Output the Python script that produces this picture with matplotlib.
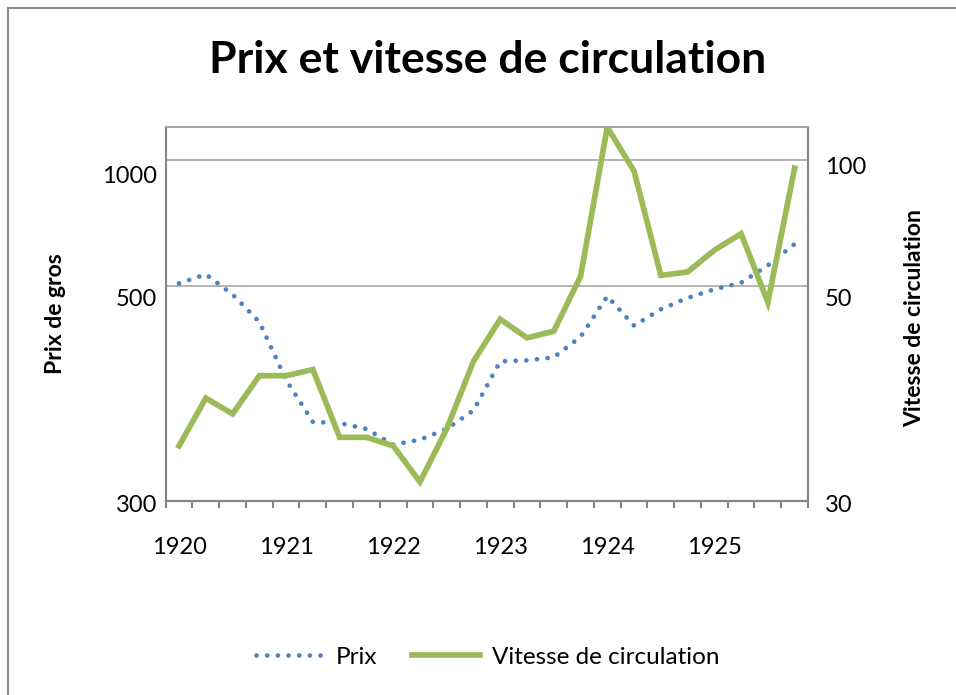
import matplotlib
matplotlib.use('Agg')
import matplotlib.pyplot as plt
import matplotlib.transforms as mtransforms
from matplotlib.lines import Line2D
import numpy as np

plt.rcParams['font.family'] = ['Lato', 'DejaVu Sans']

# trimestres 1920 - 1925
trimestres = ['1920 T1', '1920 T2', '1920 T3', '1920 T4',
              '1921 T1', '1921 T2', '1921 T3', '1921 T4',
              '1922 T1', '1922 T2', '1922 T3', '1922 T4',
              '1923 T1', '1923 T2', '1923 T3', '1923 T4',
              '1924 T1', '1924 T2', '1924 T3', '1924 T4',
              '1925 T1', '1925 T2', '1925 T3', '1925 T4']
annees = ['1920', '1921', '1922', '1923', '1924', '1925']

prix = [507, 533, 490, 459, 400, 362, 361, 356, 343, 347, 356, 372,
        418, 419, 422, 443, 488, 455, 473, 486, 496, 509, 560, 630]
vitesse = [34.2, 38.3, 36.9, 40.4, 40.4, 41.0, 34.9, 34.9, 34.2, 31.4, 35.6, 41.8,
           46.2, 44.2, 44.9, 52.7, 120, 94.3, 53.0, 54.0, 60.9, 66.7, 48.1, 95.8]

ticks_prix = [300, 500, 1000]
ticks_vitesse = [30, 50, 100]

BLEU = '#4F81BD'
VERT = '#9BBB59'
GRIS_AXE = '#868686'
GRIS_GRILLE = '#A6A6A6'


def echelle(bas, milieu, haut):
    """echelle log par morceaux : dans le graphique d'origine l'ecart bas-milieu
    est plus grand que l'ecart milieu-haut"""
    l0, l1, l2 = np.log10([bas, milieu, haut])
    p1, p2 = 215.3, 341.0
    s0 = p1 / (l1 - l0)
    s1 = (p2 - p1) / (l2 - l1)

    def fwd(v):
        l = np.log10(np.maximum(v, 1e-9))
        return np.where(l < l1, (l - l0) * s0, p1 + (l - l1) * s1)

    def inv(p):
        p = np.asarray(p, dtype=float)
        return np.where(p < p1, 10 ** (l0 + p / s0), 10 ** (l1 + (p - p1) / s1))

    return fwd, inv


fig = plt.figure(figsize=(9.56, 6.95), dpi=100)
ax = fig.add_axes([0.1733, 0.2791, 0.6719, 0.5377])
ax2 = ax.twinx()

x = np.arange(len(trimestres))
ax.plot(x, prix, color=BLEU, lw=3.4, linestyle=(0, (0.01, 2.25)),
        dash_capstyle='round', label='Prix')
ax2.plot(x, vitesse, color=VERT, lw=4.1, solid_joinstyle='miter',
         label='Vitesse de circulation')

ax.set_yscale('function', functions=echelle(*ticks_prix))
ax2.set_yscale('function', functions=echelle(*ticks_vitesse))
ax.set_ylim(300, 1200)
ax2.set_ylim(30, 120)
ax.set_xlim(-0.5, len(trimestres) - 0.5)

ax.set_yticks(ticks_prix, [str(t) for t in ticks_prix])
ax2.set_yticks(ticks_vitesse, [str(t) for t in ticks_vitesse])
ax.yaxis.set_minor_locator(matplotlib.ticker.NullLocator())
ax2.yaxis.set_minor_locator(matplotlib.ticker.NullLocator())

# graduations entre les trimestres, annees sous le premier trimestre
ax.set_xticks(np.arange(-0.5, len(trimestres), 1), [])
ax.set_xticks(x[::4], annees, minor=True)
ax.tick_params(axis='x', which='major', length=5, width=1.5, color=GRIS_AXE)
ax.tick_params(axis='x', which='minor', length=0, pad=26, labelsize=17)
ax.tick_params(axis='y', length=0, pad=6, labelsize=17)
ax2.tick_params(axis='y', length=0, pad=12, labelsize=17)

ax.grid(axis='y', color=GRIS_GRILLE, lw=1.2)
for a in (ax, ax2):
    for cote in ('left', 'right', 'bottom'):
        a.spines[cote].set_color(GRIS_AXE)
        a.spines[cote].set_linewidth(1.5)
    a.spines['top'].set_color(GRIS_GRILLE)
    a.spines['top'].set_linewidth(1.2)

# decalage des etiquettes comme dans l'original
for lbl, dy in zip(ax.get_yticklabels(), [-2, -8, -10]):
    lbl.set_transform(lbl.get_transform() + mtransforms.ScaledTranslation(0, dy / 72, fig.dpi_scale_trans))
for lbl, dy in zip(ax2.get_yticklabels(), [-2, -8, -4]):
    lbl.set_transform(lbl.get_transform() + mtransforms.ScaledTranslation(0, dy / 72, fig.dpi_scale_trans))

fig.text(0.51, 0.914, 'Prix et vitesse de circulation', ha='center', va='center',
         fontsize=32, fontweight='bold')
fig.text(55 / 956, 1 - 314 / 695, 'Prix de gros', rotation=90, ha='center', va='center',
         fontsize=16.5, fontweight='bold')
fig.text(915 / 956, 1 - 318 / 695, 'Vitesse de circulation', rotation=90, ha='center',
         va='center', fontsize=16.5, fontweight='bold')

lignes = ax.get_lines() + ax2.get_lines()
fig.legend(lignes, [l.get_label() for l in lignes], loc='center', ncol=2,
           bbox_to_anchor=(0.51, 1 - 657 / 695), frameon=False, fontsize=17.5,
           handlelength=2.8, handletextpad=0.5, columnspacing=1.4)

# cadre du graphique (coin haut gauche seulement visible)
fig.add_artist(Line2D([7.5 / 956, 7.5 / 956], [0, 1 - 7.5 / 695], color='#8C8C8C', lw=1.5))
fig.add_artist(Line2D([7.5 / 956, 1], [1 - 7.5 / 695, 1 - 7.5 / 695], color='#8C8C8C', lw=1.5))

plt.savefig('out.png', dpi=100)
plt.close()
